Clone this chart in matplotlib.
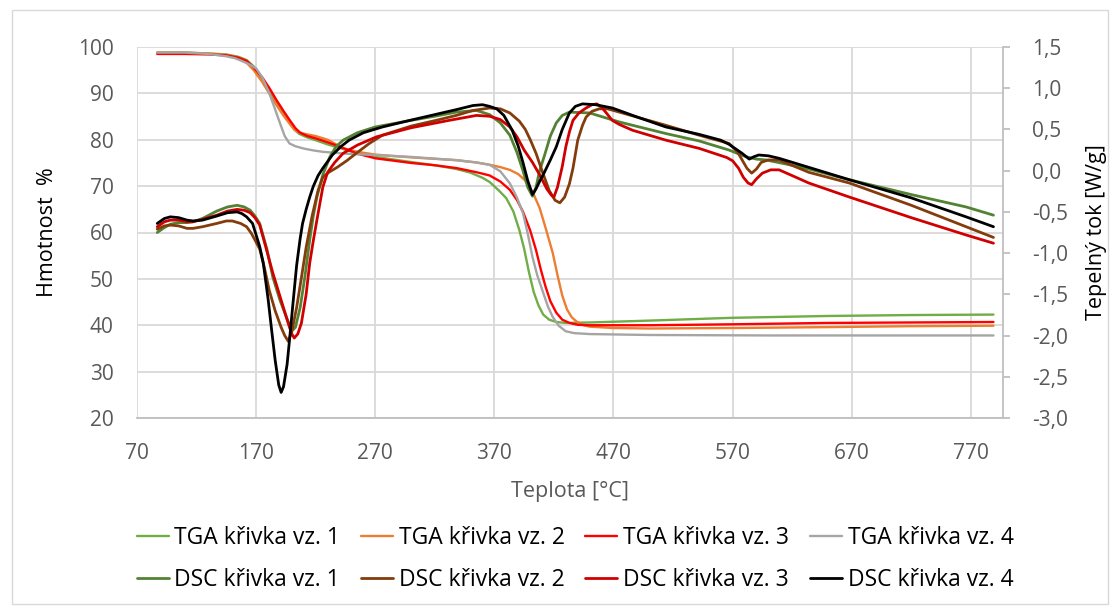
import matplotlib
matplotlib.use('Agg')
import matplotlib.pyplot as plt
from matplotlib.patches import Rectangle
from matplotlib.ticker import FuncFormatter, MultipleLocator

# --- TGA (left axis, Hmotnost %) ---
t_tga1 = [87, 110, 130, 145, 155, 162, 168, 175, 181, 187, 193, 198, 202, 206, 212, 220, 230, 243,
          255, 270, 300, 320, 338, 350, 360, 366, 374, 380, 386, 391, 395, 399, 403, 407, 411, 416,
          422, 430, 450, 500, 569, 650, 720, 789]
m_tga1 = [98.8, 98.8, 98.6, 98.4, 97.9, 97.2, 95.8, 93.2, 90.6, 88.0, 85.6, 83.8, 82.2, 81.3, 80.6,
          79.9, 79.0, 78.0, 77.1, 76.3, 75.2, 74.5, 73.7, 72.9, 71.8, 70.9, 69.0, 67.4, 64.5, 60.5,
          56.5, 51.5, 47.2, 44.3, 42.3, 41.2, 40.7, 40.5, 40.6, 41.0, 41.6, 42.0, 42.2, 42.3]

t_tga2 = [87, 110, 130, 145, 155, 162, 168, 175, 181, 187, 193, 198, 202, 206, 212, 220, 230, 243,
          255, 270, 300, 338, 355, 366, 375, 383, 390, 396, 402, 408, 413, 419, 423, 427, 431, 435,
          439, 445, 450, 470, 500, 569, 650, 720, 789]
m_tga2 = [98.8, 98.8, 98.6, 98.3, 97.6, 96.6, 95.0, 92.5, 90.0, 87.5, 85.2, 83.5, 82.2, 81.6, 81.2,
          80.8, 80.0, 78.2, 77.4, 76.8, 76.2, 75.6, 75.1, 74.6, 74.1, 73.5, 72.6, 71.2, 68.8, 65.3,
          61.0, 55.6, 50.8, 46.4, 43.4, 41.7, 40.8, 40.0, 39.7, 39.4, 39.3, 39.4, 39.6, 39.8, 39.9]

t_tga3 = [87, 110, 130, 145, 155, 162, 168, 175, 181, 187, 193, 198, 203, 207, 213, 220, 226, 235,
          243, 255, 270, 300, 320, 338, 355, 366, 375, 383, 389, 394, 400, 405, 409, 413, 417, 422,
          427, 433, 440, 450, 500, 569, 650, 720, 789]
m_tga3 = [98.5, 98.5, 98.4, 98.2, 97.7, 97.0, 95.6, 93.5, 91.2, 88.6, 86.2, 84.3, 82.5, 81.5, 80.8,
          80.3, 79.8, 79.0, 78.2, 77.0, 76.0, 75.0, 74.5, 73.9, 73.0, 72.3, 71.0, 69.2, 67.0, 64.5,
          60.5, 56.2, 52.0, 48.3, 45.2, 42.7, 41.2, 40.5, 40.1, 40.0, 40.0, 40.2, 40.5, 40.6, 40.7]

t_tga4 = [87, 110, 130, 145, 152, 158, 164, 170, 175, 181, 186, 190, 194, 198, 203, 210, 218, 226,
          245, 270, 300, 338, 355, 366, 375, 383, 389, 394, 398, 402, 406, 411, 415, 419, 424, 430,
          437, 450, 500, 600, 789]
m_tga4 = [98.8, 98.8, 98.5, 98.0, 97.6, 97.0, 96.3, 95.4, 93.5, 90.1, 86.5, 83.6, 80.8, 79.2, 78.6,
          78.1, 77.7, 77.4, 77.0, 76.7, 76.3, 75.6, 75.1, 74.6, 73.2, 70.6, 67.5, 64.2, 59.8, 54.7,
          50.8, 47.0, 44.0, 41.8, 39.9, 38.7, 38.3, 38.1, 37.9, 37.8, 37.8]

# --- DSC (right axis, Tepelny tok W/g) ---
t_dsc1 = [87, 93, 98, 105, 112, 117, 125, 137, 146, 154, 160, 165, 169, 173, 179, 184, 190, 196,
          199, 201, 203, 207, 211, 215, 218, 221, 226, 232, 237, 243, 255, 270, 300, 320, 338, 355,
          366, 375, 383, 389, 394, 398, 402, 405, 408, 412, 417, 422, 427, 433, 450, 475, 514, 542,
          567, 581, 590, 598, 615, 634, 668, 720, 766, 789]
d_dsc1 = [-0.75, -0.69, -0.65, -0.63, -0.63, -0.62, -0.58, -0.49, -0.44, -0.42, -0.44, -0.48, -0.55,
          -0.64, -0.95, -1.29, -1.57, -1.80, -1.90, -1.93, -1.90, -1.66, -1.28, -0.84, -0.55, -0.32,
          -0.05, 0.17, 0.29, 0.37, 0.46, 0.53, 0.61, 0.66, 0.71, 0.73, 0.68, 0.58, 0.43, 0.22, 0.0,
          -0.20, -0.31, -0.20, 0.0, 0.18, 0.42, 0.58, 0.67, 0.71, 0.70, 0.59, 0.45, 0.36, 0.25, 0.17,
          0.14, 0.13, 0.08, 0.02, -0.11, -0.29, -0.44, -0.54]

t_dsc2 = [87, 93, 98, 105, 112, 117, 125, 137, 145, 150, 157, 162, 166, 169, 173, 177, 181, 186,
          191, 194, 197, 200, 204, 208, 212, 217, 222, 226, 231, 238, 246, 254, 265, 276, 300, 321,
          338, 352, 366, 375, 383, 391, 396, 400, 405, 410, 416, 421, 425, 429, 433, 436, 440, 444,
          447, 452, 458, 465, 475, 514, 542, 567, 574, 578, 582, 586, 590, 594, 600, 609, 634, 668,
          720, 766, 789]
d_dsc2 = [-0.71, -0.67, -0.66, -0.67, -0.70, -0.70, -0.68, -0.64, -0.61, -0.61, -0.64, -0.68, -0.76,
          -0.84, -0.95, -1.18, -1.45, -1.70, -1.90, -2.00, -2.07, -1.95, -1.66, -1.30, -0.93, -0.55,
          -0.24, -0.08, -0.02, 0.04, 0.12, 0.21, 0.33, 0.43, 0.54, 0.61, 0.67, 0.73, 0.76, 0.75, 0.70,
          0.60, 0.50, 0.38, 0.21, 0.0, -0.24, -0.36, -0.39, -0.32, -0.16, 0.03, 0.37, 0.55, 0.65,
          0.72, 0.75, 0.75, 0.71, 0.55, 0.43, 0.33, 0.23, 0.13, 0.03, -0.03, 0.02, 0.10, 0.13, 0.13,
          -0.02, -0.15, -0.42, -0.68, -0.81]

t_dsc3 = [87, 93, 98, 105, 112, 117, 125, 137, 146, 154, 160, 165, 169, 173, 178, 184, 191, 198,
          200, 202, 205, 208, 212, 215, 218, 221, 224, 226, 230, 236, 243, 255, 271, 300, 332, 355,
          366, 375, 383, 389, 395, 402, 408, 414, 418, 420, 423, 427, 430, 433, 436, 441, 447, 452,
          456, 460, 464, 469, 475, 486, 500, 514, 542, 565, 570, 575, 579, 583, 586, 590, 595, 602,
          609, 620, 634, 668, 720, 766, 789]
d_dsc3 = [-0.68, -0.62, -0.60, -0.60, -0.62, -0.62, -0.59, -0.54, -0.49, -0.47, -0.48, -0.51, -0.57,
          -0.66, -0.92, -1.24, -1.57, -1.90, -1.98, -2.03, -1.98, -1.85, -1.50, -1.12, -0.85, -0.60,
          -0.36, -0.20, -0.02, 0.10, 0.21, 0.31, 0.41, 0.52, 0.61, 0.67, 0.66, 0.62, 0.53, 0.41, 0.25,
          0.10, -0.05, -0.22, -0.30, -0.32, -0.20, 0.05, 0.29, 0.47, 0.61, 0.70, 0.76, 0.80, 0.81,
          0.77, 0.70, 0.61, 0.56, 0.49, 0.43, 0.37, 0.27, 0.16, 0.12, 0.03, -0.08, -0.15, -0.17,
          -0.10, -0.03, 0.01, 0.01, -0.06, -0.15, -0.32, -0.57, -0.78, -0.88]

t_dsc4 = [87, 93, 98, 105, 112, 117, 125, 137, 146, 154, 158, 162, 167, 170, 173, 176, 180, 183,
          186, 189, 191, 193, 196, 198, 201, 204, 207, 209, 212, 215, 218, 222, 226, 234, 241, 248,
          260, 276, 299, 320, 338, 352, 360, 366, 372, 378, 385, 390, 394, 398, 402, 405, 408, 412,
          417, 422, 427, 433, 438, 444, 455, 469, 490, 514, 542, 560, 567, 573, 578, 584, 588, 592,
          600, 609, 634, 668, 720, 766, 789]
d_dsc4 = [-0.64, -0.58, -0.56, -0.57, -0.60, -0.61, -0.60, -0.55, -0.51, -0.50, -0.52, -0.56, -0.64,
          -0.78, -0.92, -1.12, -1.55, -1.93, -2.30, -2.60, -2.69, -2.62, -2.35, -2.06, -1.60, -1.15,
          -0.82, -0.64, -0.47, -0.32, -0.19, -0.06, 0.03, 0.19, 0.29, 0.37, 0.46, 0.53, 0.61, 0.68,
          0.74, 0.79, 0.80, 0.78, 0.75, 0.67, 0.49, 0.30, 0.10, -0.12, -0.29, -0.22, -0.13, -0.02,
          0.13, 0.29, 0.50, 0.70, 0.78, 0.81, 0.80, 0.76, 0.65, 0.53, 0.44, 0.37, 0.32, 0.26, 0.21,
          0.14, 0.17, 0.19, 0.18, 0.15, 0.04, -0.11, -0.33, -0.56, -0.68]

tga_labels = ['TGA křivka vz. 1', 'TGA křivka vz. 2', 'TGA křivka vz. 3', 'TGA křivka vz. 4']
dsc_labels = ['DSC křivka vz. 1', 'DSC křivka vz. 2', 'DSC křivka vz. 3', 'DSC křivka vz. 4']
tga_colors = ['#70AD47', '#ED7D31', '#FF0000', '#A5A5A5']
dsc_colors = ['#548235', '#843C0C', '#D00000', '#000000']

plt.rcParams['font.family'] = ['Open Sans', 'DejaVu Sans']
grey_txt = '#595959'

fig = plt.figure(figsize=(11.2, 6.12), dpi=100)
ax = fig.add_axes([137 / 1120, 1 - 418 / 612, 866 / 1120, 371 / 612])
ax2 = ax.twinx()

tga = [(t_tga1, m_tga1), (t_tga2, m_tga2), (t_tga3, m_tga3), (t_tga4, m_tga4)]
dsc = [(t_dsc1, d_dsc1), (t_dsc2, d_dsc2), (t_dsc3, d_dsc3), (t_dsc4, d_dsc4)]

h_tga = []
for (t, m), c, lab in zip(tga, tga_colors, tga_labels):
    h, = ax.plot(t, m, color=c, lw=1.7, label=lab, solid_joinstyle='round', solid_capstyle='round')
    h_tga.append(h)
h_dsc = []
for (t, d), c, lab in zip(dsc, dsc_colors, dsc_labels):
    h, = ax2.plot(t, d, color=c, lw=2.0, label=lab, solid_joinstyle='round', solid_capstyle='round')
    h_dsc.append(h)

ax.set_xlim(70, 797)
ax.set_ylim(20, 100)
ax2.set_ylim(-3.0, 1.5)
ax.set_xticks(range(70, 780, 100))
ax.yaxis.set_major_locator(MultipleLocator(10))
ax2.yaxis.set_major_locator(MultipleLocator(0.5))
ax2.yaxis.set_major_formatter(FuncFormatter(lambda v, p: f'{v:.1f}'.replace('.', ',')))

ax.grid(True, color='#D9D9D9', lw=1.3)
ax.set_axisbelow(True)
for s in ['top', 'left', 'right']:
    ax.spines[s].set_visible(False)
ax.spines['bottom'].set_color('#BFBFBF')
ax.spines['bottom'].set_linewidth(1.3)
for s in ['top', 'left', 'bottom']:
    ax2.spines[s].set_visible(False)
ax2.spines['right'].set_color('#BFBFBF')
ax2.spines['right'].set_linewidth(1.3)

ax.tick_params(axis='both', length=0, labelsize=15, labelcolor=grey_txt)
ax.tick_params(axis='y', pad=17)
ax.tick_params(axis='x', pad=18)
ax2.tick_params(axis='y', length=5, width=1.3, color='#BFBFBF', labelsize=15, labelcolor=grey_txt, pad=16)

ax.set_xlabel('Teplota [°C]', fontsize=15.5, color=grey_txt, labelpad=12)
ax.set_ylabel('Hmotnost  %', fontsize=15.5, color='black', labelpad=14)
ax2.set_ylabel('Tepelný tok [W/g]', fontsize=15.5, color='black', labelpad=13)

# legend: row 1 TGA, row 2 DSC (matplotlib fills columns first)
handles = []
labels = []
for a, b in zip(h_tga, h_dsc):
    handles += [a, b]
    labels += [a.get_label(), b.get_label()]
fig.legend(handles, labels, loc='center', bbox_to_anchor=(575 / 1120, 1 - 559 / 612), ncol=4,
           frameon=False, fontsize=16.5, handlelength=1.4, handletextpad=0.25,
           columnspacing=0.9, labelspacing=0.8)

fig.patches.append(Rectangle((12 / 1120, 1 - 604 / 612), 1096 / 1120, 594 / 612,
                             transform=fig.transFigure, fill=False, ec='#D9D9D9', lw=1))

plt.savefig('out.png', dpi=100)
